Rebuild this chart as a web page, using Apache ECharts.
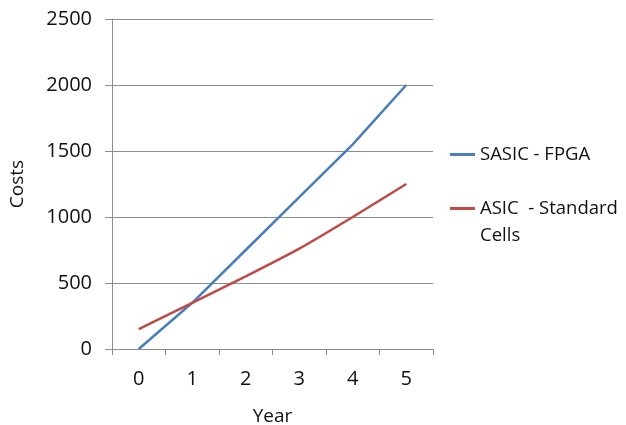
<!DOCTYPE html>
<html>
<head>
<meta charset="utf-8">
<script src="https://cdn.jsdelivr.net/npm/echarts@6/dist/echarts.min.js"></script>
<style>
  html, body { margin: 0; padding: 0; background: #fff; }
  #chart { width: 626px; height: 425px; }
</style>
</head>
<body>
<div id="chart"></div>
<script>
// Cost comparison over years
const years = ['0', '1', '2', '3', '4', '5'];
const sasicFpga = [0, 350, 750, 1150, 1550, 2000];
const asicStdCells = [150, 350, 550, 760, 1000, 1250];
const seriesNames = ['SASIC - FPGA', 'ASIC  - Standard Cells'];

const FONT = 'Open Sans';
const TEXT = '#111111';
const GRID = '#8c8c8c';

const chart = echarts.init(document.getElementById('chart'), null, { renderer: 'canvas' });
chart.setOption({
  animation: false,
  backgroundColor: '#fff',
  grid: { left: 112, right: 193, top: 19, bottom: 76, containLabel: false, outerBoundsMode: 'none' },
  xAxis: {
    type: 'category',
    data: years,
    boundaryGap: true,
    name: 'Year',
    nameLocation: 'middle',
    nameGap: 58,
    nameTextStyle: { fontFamily: FONT, fontSize: 19, color: TEXT },
    axisLine: { lineStyle: { color: GRID, width: 1 } },
    axisTick: { show: true, length: 6, lineStyle: { color: GRID } },
    axisLabel: { fontFamily: FONT, fontSize: 20, color: TEXT, margin: 20 },
    splitLine: { show: false }
  },
  yAxis: {
    type: 'value',
    min: 0,
    max: 2500,
    interval: 500,
    name: 'Costs',
    nameLocation: 'middle',
    nameGap: 85,
    nameRotate: 90,
    nameTextStyle: { fontFamily: FONT, fontSize: 19, color: TEXT },
    axisLine: { show: true, lineStyle: { color: GRID, width: 1 } },
    axisTick: { show: true, length: 7, lineStyle: { color: GRID } },
    axisLabel: { fontFamily: FONT, fontSize: 20, color: TEXT, margin: 20, formatter: v => String(v) },
    splitLine: { show: true, lineStyle: { color: GRID, width: 1 } }
  },
  legend: [
    {
      data: [seriesNames[0]],
      left: 450, top: 145, padding: 0,
      icon: 'rect', itemWidth: 25, itemHeight: 3,
      textStyle: { fontFamily: FONT, fontSize: 18.5, color: TEXT }
    },
    {
      data: [seriesNames[1]],
      left: 450, top: 199, padding: 0,
      icon: 'rect', itemWidth: 25, itemHeight: 3,
      formatter: () => 'ASIC  - Standard',
      textStyle: { fontFamily: FONT, fontSize: 18.5, color: TEXT }
    }
  ],
  graphic: [
    {
      type: 'text',
      left: 480, top: 226,
      style: { text: 'Cells', font: '18.5px "Open Sans"', fill: TEXT }
    }
  ],
  series: [
    {
      name: seriesNames[0],
      type: 'line',
      data: sasicFpga,
      showSymbol: false,
      lineStyle: { color: '#4a7ebb', width: 2.5 },
      itemStyle: { color: '#4a7ebb' }
    },
    {
      name: seriesNames[1],
      type: 'line',
      data: asicStdCells,
      showSymbol: false,
      smooth: 0.2,
      lineStyle: { color: '#be4b48', width: 2.5 },
      itemStyle: { color: '#be4b48' }
    }
  ]
});
</script>
</body>
</html>
